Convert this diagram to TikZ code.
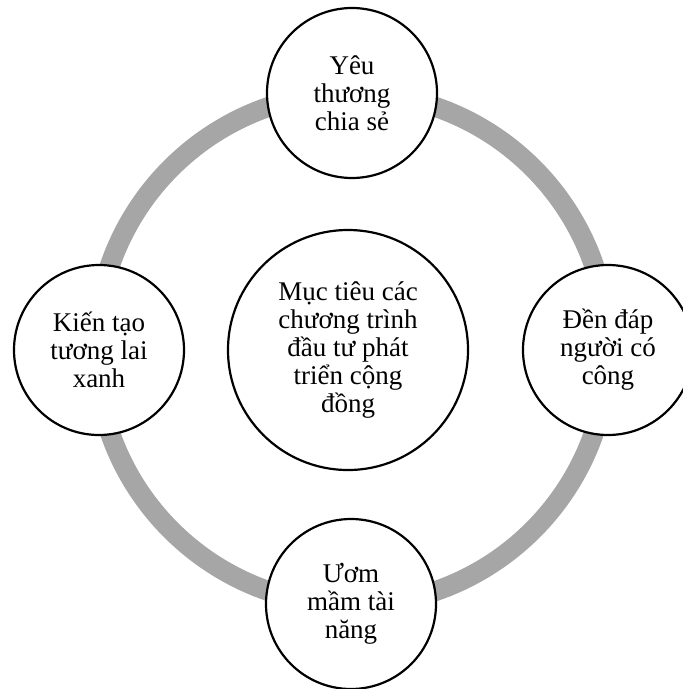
\documentclass[tikz,border=0pt]{standalone}
\usepackage{fontspec}
\setmainfont{Liberation Serif}
\usepackage{tikz}

\tikzset{
  goal/.style={circle, draw=black, line width=2.2pt, fill=white, inner sep=0pt,
    minimum size=170pt, align=center, font=\fontsize{27}{28}\selectfont},
  aim/.style={goal, minimum size=240pt},
  ring/.style={draw=black!35, line width=20pt}
}

\begin{document}
\begin{tikzpicture}[x=1pt,y=-1pt]
 \useasboundingbox (0,0) rectangle (683,689);
 \coordinate (hub) at (352,349);
  \draw[ring] (hub) circle[radius=256pt];

  \draw (348,350) node[aim] (muctieu) {Mục tiêu các\\chương trình\\đầu tư phát\\triển cộng\\đồng};

    \draw (352,93) node[goal] (yeuthuong) {Yêu\\thương\\chia sẻ};
    \draw (608,350) node[goal] (dendap) {Đền đáp\\người có\\công};
	\draw (351,604) node[goal] (uommam) {Ươm\\mầm tài\\năng};
    \draw (99,350) node[goal] (kientao) {Kiến tạo\\tương lai\\xanh};

\end{tikzpicture}
\end{document}
